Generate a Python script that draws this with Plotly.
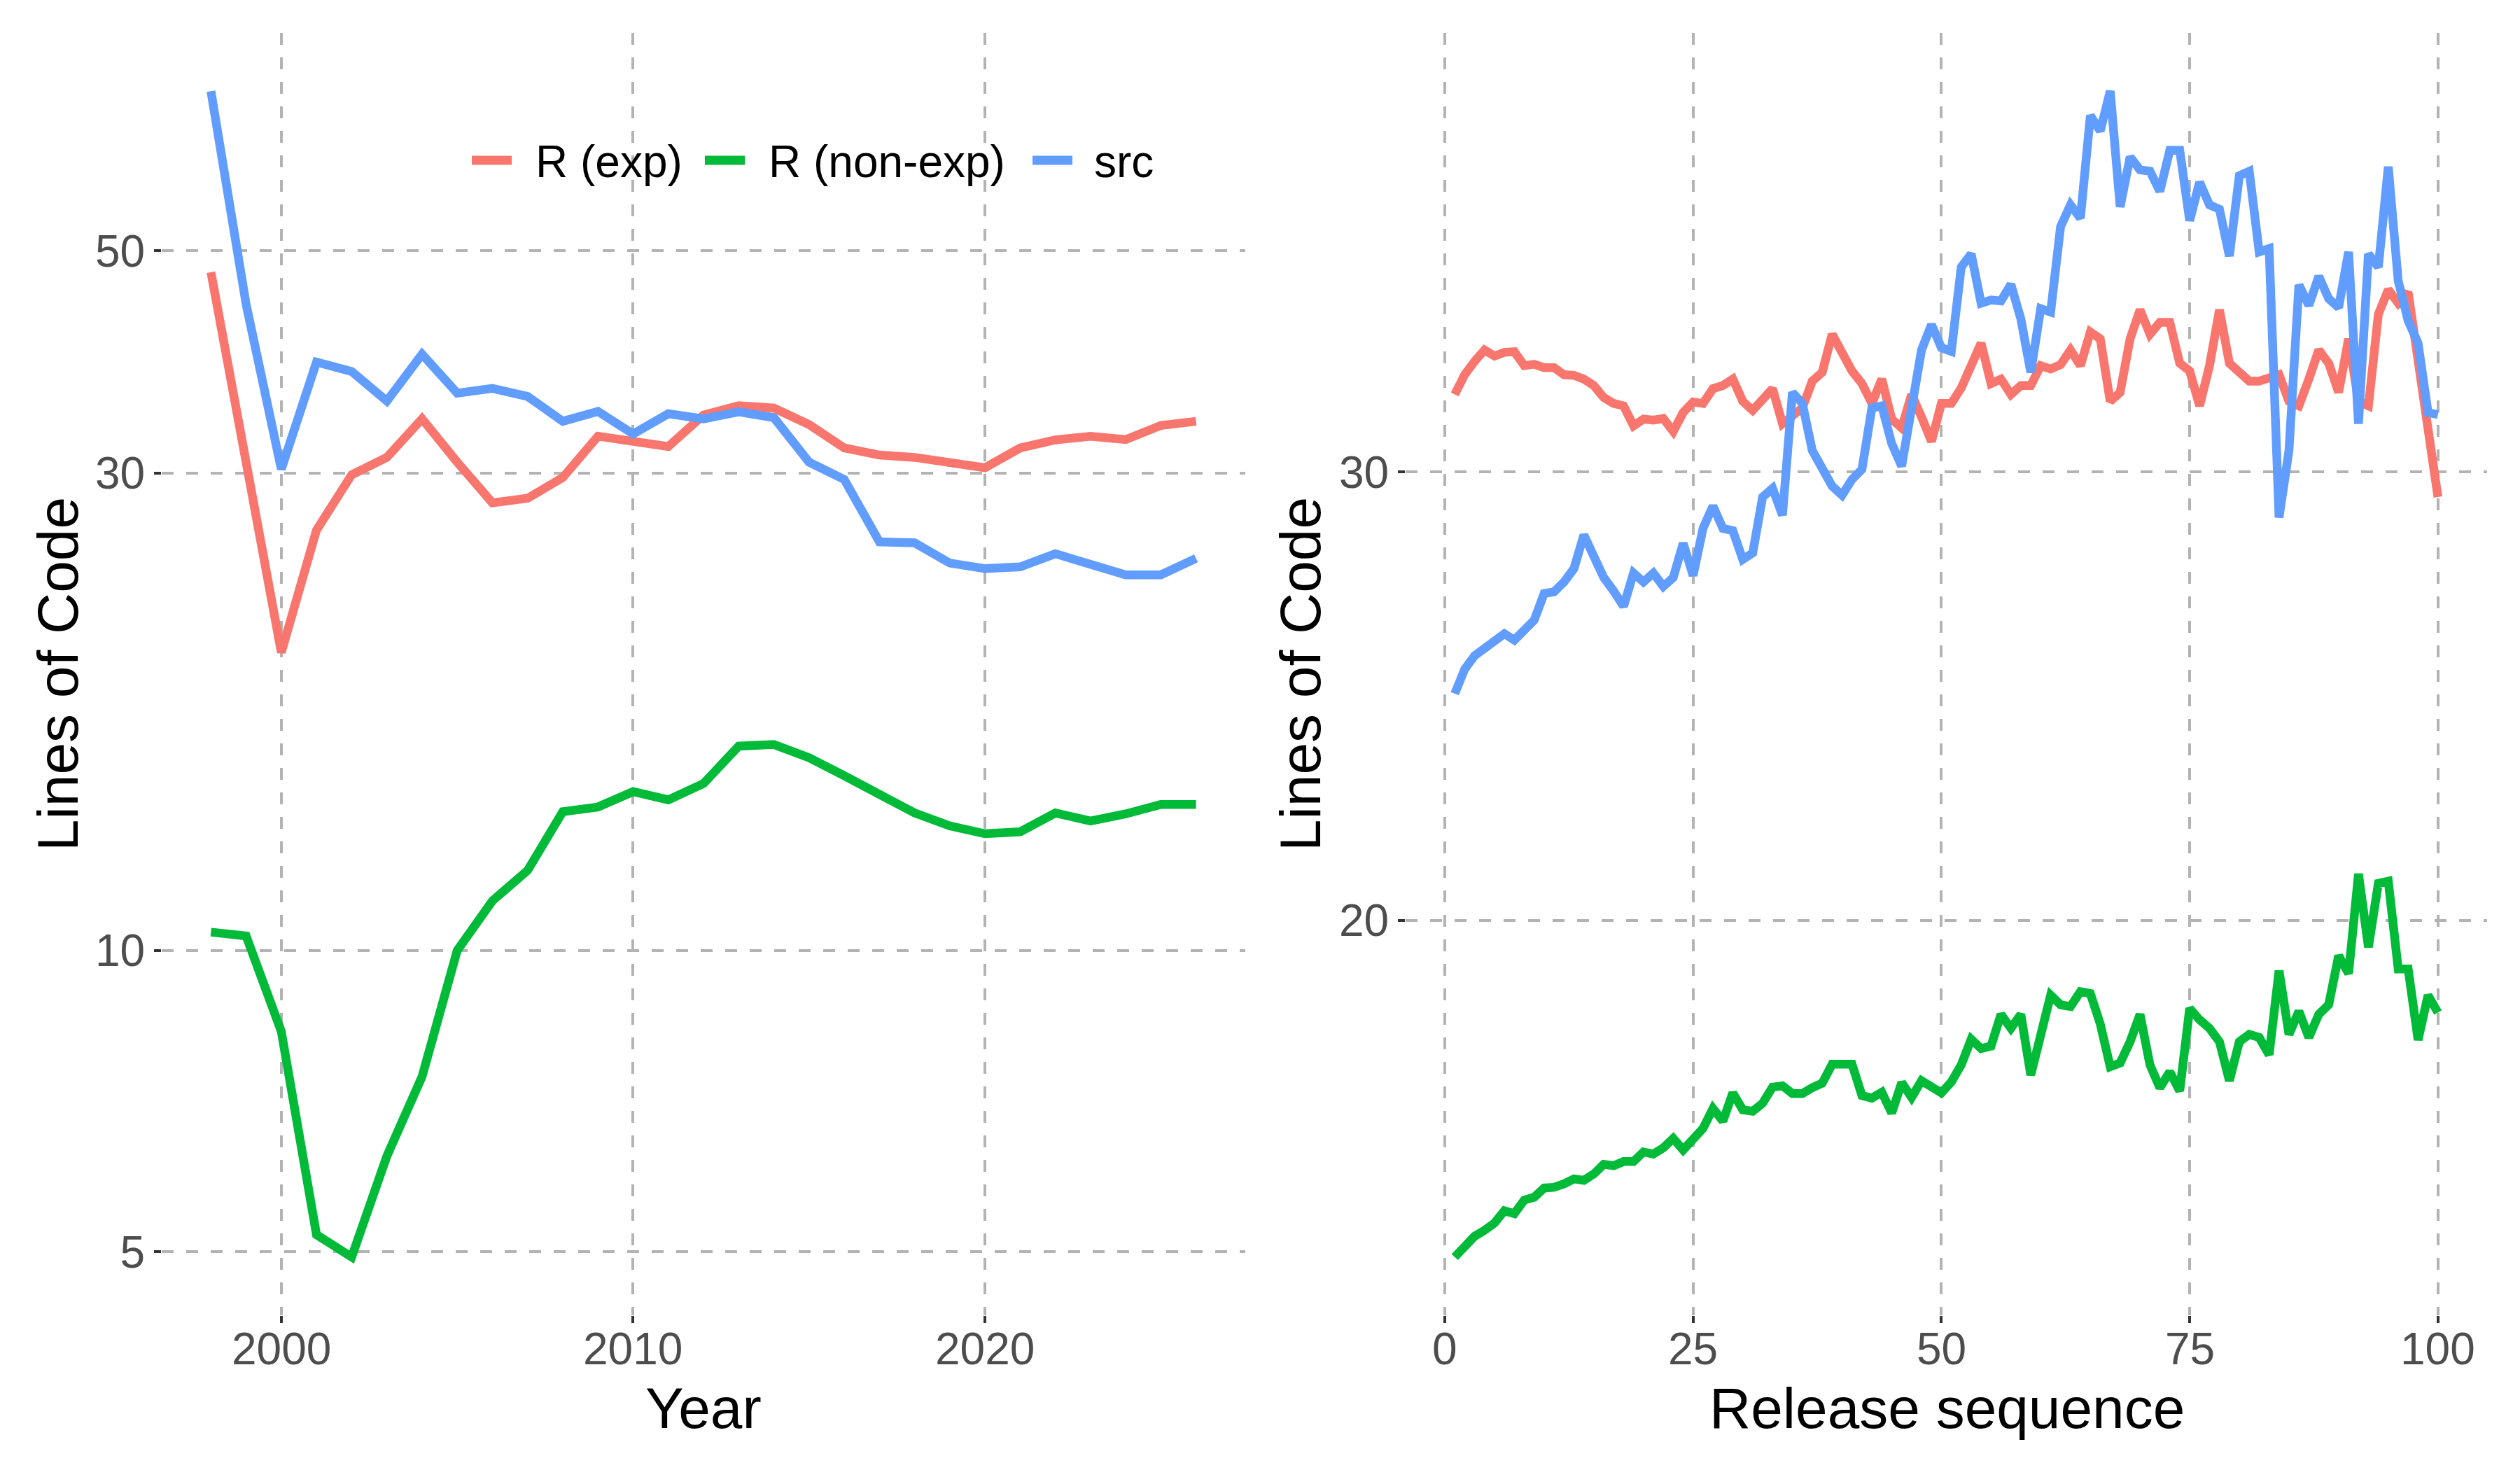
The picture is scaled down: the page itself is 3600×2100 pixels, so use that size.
import plotly.graph_objects as go

# ---------------- data ----------------
years = list(range(1998, 2027))
year_r_exp = [47.6, 30.6, 19.85, 26.3, 29.87, 31.09, 33.97, 30.75, 28.0, 28.3, 29.68, 32.64,
              32.29, 31.87, 34.27, 35.01, 34.82, 33.53, 31.77, 31.26, 31.09, 30.65, 30.36,
              31.77, 32.36, 32.64, 32.39, 33.46, 33.78]
year_r_nonexp = [10.43, 10.34, 8.3, 5.2, 4.94, 6.23, 7.48, 10.0, 11.21, 12.02, 13.76, 13.91,
                 14.41, 14.14, 14.68, 16.0, 16.06, 15.58, 14.95, 14.32, 13.72, 13.32, 13.08,
                 13.14, 13.72, 13.47, 13.69, 13.99, 13.99]
year_src = [72.2, 44.2, 30.26, 38.71, 37.88, 35.39, 39.42, 36.04, 36.44, 35.77, 33.78, 34.56,
            32.81, 34.37, 33.97, 34.52, 34.07, 30.75, 29.55, 25.6, 25.54, 24.38, 24.07,
            24.17, 24.91, 24.25, 23.73, 23.73, 24.65]

release = list(range(1, 101))
rel_r_exp = [32.18, 32.76, 33.16, 33.50, 33.32, 33.43, 33.45, 33.03, 33.07, 32.97,
             32.97, 32.76, 32.74, 32.63, 32.44, 32.09, 31.92, 31.85, 31.28, 31.47,
             31.44, 31.49, 31.12, 31.66, 31.96, 31.92, 32.35, 32.44, 32.63, 31.98,
             31.72, 32.04, 32.35, 31.34, 31.57, 31.79, 32.57, 32.83, 33.98, 33.43,
             32.87, 32.50, 31.92, 32.63, 31.47, 31.22, 32.18, 31.53, 30.84, 31.92,
             31.92, 32.37, 33.10, 33.71, 32.50, 32.63, 32.18, 32.44, 32.44, 33.03,
             32.93, 33.06, 33.50, 33.03, 34.05, 33.84, 31.98, 32.24, 33.84, 34.74,
             33.98, 34.35, 34.35, 33.10, 32.87, 31.85, 33.03, 34.74, 33.10, 32.83,
             32.57, 32.57, 32.66, 32.76, 31.98, 31.85, 32.63, 33.50, 33.10, 32.24,
             33.84, 31.98, 31.85, 34.60, 35.38, 34.95, 35.30, 33.16, 31.34, 29.33]
rel_r_nonexp = [14.75, 14.89, 15.03, 15.11, 15.21, 15.38, 15.34, 15.53, 15.57, 15.70,
                15.71, 15.76, 15.83, 15.81, 15.90, 16.04, 16.02, 16.08, 16.08, 16.22,
                16.19, 16.28, 16.42, 16.25, 16.43, 16.57, 16.87, 16.68, 17.11, 16.85,
                16.83, 16.95, 17.20, 17.22, 17.10, 17.10, 17.19, 17.26, 17.56, 17.57,
                17.56, 17.07, 17.03, 17.12, 16.80, 17.27, 17.04, 17.30, 17.20, 17.11,
                17.28, 17.55, 17.96, 17.81, 17.85, 18.37, 18.14, 18.37, 17.39, 18.02,
                18.69, 18.53, 18.50, 18.75, 18.72, 18.21, 17.52, 17.58, 17.92, 18.37,
                17.55, 17.19, 17.44, 17.14, 18.47, 18.28, 18.14, 17.92, 17.30, 17.92,
                18.04, 17.99, 17.71, 19.11, 18.04, 18.42, 17.99, 18.37, 18.53, 19.37,
                19.06, 20.86, 19.52, 20.68, 20.72, 19.14, 19.14, 17.95, 18.69, 18.40]
rel_src = [24.55, 25.10, 25.41, 25.56, 25.72, 25.92, 25.77, 25.98, 26.24, 26.88,
           26.92, 27.16, 27.49, 28.34, 27.77, 27.27, 26.94, 26.57, 27.38, 27.16,
           27.38, 27.05, 27.27, 28.13, 27.32, 28.51, 29.09, 28.51, 28.45, 27.72,
           27.88, 29.33, 29.56, 28.85, 32.24, 31.92, 30.59, 30.04, 29.62, 29.38,
           29.80, 30.07, 31.79, 31.85, 30.78, 30.16, 31.98, 33.50, 34.28, 33.57,
           33.46, 36.11, 36.54, 34.95, 35.05, 35.02, 35.55, 34.46, 32.83, 34.78,
           34.67, 37.45, 38.20, 37.74, 41.41, 40.84, 42.34, 38.13, 39.89, 39.43,
           39.38, 38.67, 40.13, 40.13, 37.66, 38.99, 38.20, 38.05, 36.47, 39.22,
           39.38, 36.61, 36.72, 28.79, 30.59, 35.53, 34.88, 35.81, 35.09, 34.81,
           36.61, 31.34, 36.54, 36.11, 39.54, 35.66, 34.40, 33.71, 31.66, 31.60]

series_names = ["R (exp)", "R (non-exp)", "src"]
series_colors = ["#F8766D", "#00BA38", "#619CFF"]
left_yticks = [5, 10, 30, 50]
right_yticks = [20, 30]
left_xticks = [2000, 2010, 2020]
right_xticks = [0, 25, 50, 75, 100]

# ---------------- figure ----------------
W, H = 3600, 2100
FONT = "Liberation Sans, Arial, Helvetica, sans-serif"
LW = 12.5
TICK_FONT = dict(family=FONT, size=64, color="#4D4D4D")

fig = go.Figure()
for name, col, ys in zip(series_names, series_colors, [year_r_exp, year_r_nonexp, year_src]):
    fig.add_trace(go.Scatter(x=years, y=ys, mode="lines", name=name,
                             line=dict(color=col, width=LW), xaxis="x", yaxis="y",
                             showlegend=False))
for name, col, ys in zip(series_names, series_colors, [rel_r_exp, rel_r_nonexp, rel_src]):
    fig.add_trace(go.Scatter(x=release, y=ys, mode="lines", name=name,
                             line=dict(color=col, width=LW), xaxis="x2", yaxis="y2",
                             showlegend=False))

grid = dict(showgrid=True, gridcolor="#B3B3B3", gridwidth=4, griddash="17px,18px",
            zeroline=False, showline=False, ticks="outside", ticklen=10, tickwidth=4,
            tickcolor="#333333", tickfont=TICK_FONT, automargin=False)

top_px, bot_px = 47, 1879
ydom = [1 - bot_px / H, 1 - top_px / H]

fig.update_layout(
    width=W, height=H,
    margin=dict(l=0, r=0, t=0, b=0),
    paper_bgcolor="white", plot_bgcolor="white",
    font=dict(family=FONT, color="black"),
    xaxis=dict(domain=[231 / W, 1779 / W], range=[1996.6, 2027.4], showticklabels=False,
               tickvals=left_xticks, anchor="y", **grid),
    yaxis=dict(domain=ydom, type="log", range=[0.6355, 1.9167],
               tickvals=left_yticks, ticktext=[str(v) for v in left_yticks], anchor="x", **grid),
    xaxis2=dict(domain=[2008 / W, 3553 / W], range=[-3.95, 104.95], showticklabels=False,
                tickvals=right_xticks, anchor="y2", **grid),
    yaxis2=dict(domain=ydom, type="log", range=[1.1459, 1.6496],
                tickvals=right_yticks, ticktext=[str(v) for v in right_yticks], anchor="x2", **grid),
    showlegend=False,
)

# x tick labels, positioned through the x axes' own scales
label_y = 1 - 1927 / H
for xr, ticks in (("x", left_xticks), ("x2", right_xticks)):
    for v in ticks:
        fig.add_annotation(xref=xr, yref="paper", x=v, y=label_y, text=str(v),
                           showarrow=False, xanchor="center", yanchor="middle",
                           font=TICK_FONT)

# axis titles
title_font = dict(family=FONT, size=82, color="black")
annots = [
    dict(text="Year", x=1005 / W, y=1 - 2011 / H),
    dict(text="Release sequence", x=2781 / W, y=1 - 2011 / H),
    dict(text="Lines of Code", x=82 / W, y=1 - 963 / H, textangle=-90),
    dict(text="Lines of Code", x=1857 / W, y=1 - 963 / H, textangle=-90),
]
for a in annots:
    fig.add_annotation(xref="paper", yref="paper", showarrow=False, xanchor="center",
                       yanchor="middle", font=title_font, **a)

# legend (drawn inside the left panel, horizontal)
leg_y = 229
key_x0 = [674, 1007, 1475]
key_len = 57
text_x = [765, 1098, 1563]
for name, col, kx, tx in zip(series_names, series_colors, key_x0, text_x):
    fig.add_shape(type="line", xref="paper", yref="paper",
                  x0=kx / W, x1=(kx + key_len) / W, y0=1 - leg_y / H, y1=1 - leg_y / H,
                  line=dict(color=col, width=13))
    fig.add_annotation(xref="paper", yref="paper", showarrow=False, text=name,
                       x=(tx - 2) / W, y=1 - (leg_y + 2) / H, xanchor="left", yanchor="middle",
                       font=dict(family=FONT, size=64, color="black"))

fig.write_html("out.html")
